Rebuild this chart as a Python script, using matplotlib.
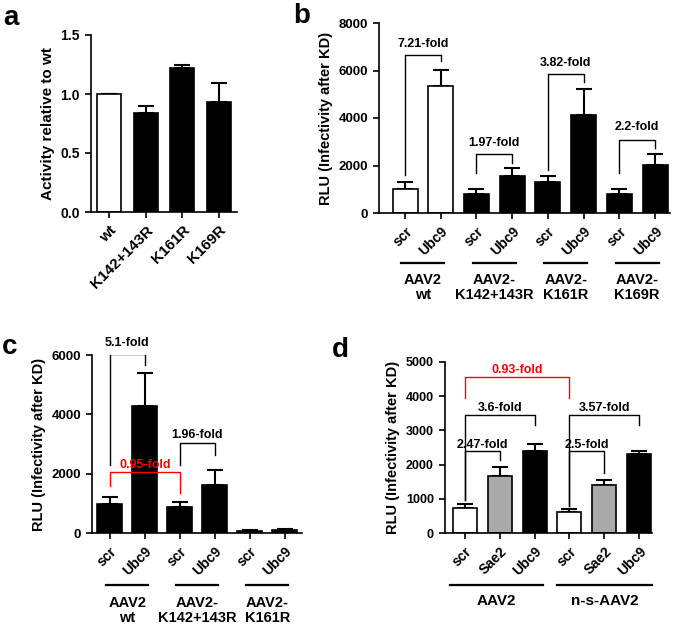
import matplotlib
matplotlib.use("Agg")
import matplotlib.pyplot as plt
import matplotlib.transforms as mtransforms

plt.rcParams["font.family"] = ["Liberation Sans", "DejaVu Sans"]
plt.rcParams["font.weight"] = "bold"
plt.rcParams["axes.labelweight"] = "bold"

W, H = 675, 624

# ---- data ----
a_labels = ["wt", "K142+143R", "K161R", "K169R"]
a_values = [1.0, 0.84, 1.22, 0.93]
a_err_top = [1.0, 0.90, 1.25, 1.09]
a_colors = ["white", "black", "black", "black"]

b_ticks = ["scr", "Ubc9"] * 4
b_groups = ["AAV2\nwt", "AAV2-\nK142+143R", "AAV2-\nK161R", "AAV2-\nK169R"]
b_values = [1030, 5360, 810, 1570, 1290, 4130, 810, 2040]
b_err_top = [1290, 6010, 1000, 1890, 1540, 5220, 1000, 2490]
b_colors = ["white", "white"] + ["black"] * 6
# (left bar, right bar, left leg bottom, right leg bottom, top, text y, label)
b_brackets = [
    (0, 1, 1600, 6400, 6640, 7100, "7.21-fold"),
    (2, 3, 1680, 2100, 2480, 2940, "1.97-fold"),
    (4, 5, 1820, 5500, 5870, 6330, "3.82-fold"),
    (6, 7, 1680, 2730, 3080, 3640, "2.2-fold"),
]

c_ticks = ["scr", "Ubc9"] * 3
c_groups = ["AAV2\nwt", "AAV2-\nK142+143R", "AAV2-\nK161R"]
c_values = [990, 4280, 880, 1630, 80, 100]
c_err_top = [1230, 5410, 1060, 2130, 100, 135]
c_brackets = [
    (0, 1, 2300, 5660, 6020, 6400, "5.1-fold", "black"),
    (2, 3, 2300, 2630, 3030, 3300, "1.96-fold", "black"),
    (0, 2, 1570, 1350, 2070, 2300, "0.95-fold", "red"),
]

d_ticks = ["scr", "Sae2", "Ubc9"] * 2
d_groups = ["AAV2", "n-s-AAV2"]
d_values = [730, 1680, 2390, 610, 1410, 2310]
d_err_top = [860, 1930, 2600, 700, 1560, 2390]
d_colors = ["white", "#a9a9a9", "black"] * 2
d_brackets = [
    (0, 2, 970, 3170, 3440, 3650, "3.6-fold", "black"),
    (0, 1, 970, 2140, 2390, 2580, "2.47-fold", "black"),
    (3, 5, 780, 3170, 3440, 3650, "3.57-fold", "black"),
    (3, 4, 780, 1750, 2390, 2580, "2.5-fold", "black"),
    (0, 3, 3950, 3950, 4560, 4780, "0.93-fold", "red"),
]

fig = plt.figure(figsize=(W / 100, H / 100), dpi=100)


def make_axes(x0, x1, ytop, ybot, ysize=9.5):
    ax = fig.add_axes([x0 / W, 1 - ybot / H, (x1 - x0) / W, (ybot - ytop) / H])
    for s in ("top", "right"):
        ax.spines[s].set_visible(False)
    for s in ("left", "bottom"):
        ax.spines[s].set_linewidth(1.2)
    ax.tick_params(width=1.2, length=4.5)
    ax.tick_params(axis="y", labelsize=ysize)
    return ax


def bars(ax, vals, errs, colors, width):
    x = list(range(len(vals)))
    ax.bar(x, vals, width=width, color=colors, edgecolor="black", linewidth=1.2, zorder=2)
    up = [e - v for e, v in zip(errs, vals)]
    ax.errorbar(x, vals, yerr=[[0] * len(vals), up], fmt="none", ecolor="black",
                elinewidth=1.5, capsize=5.5, capthick=1.5, zorder=1)


def bracket(ax, i, j, yl, yr, top, ty, text, color="black"):
    ax.plot([i, i, j, j], [yl, top, top, yr], color=color, lw=1.0, zorder=3)
    ax.text((i + j) / 2, ty, text, ha="center", va="center", fontsize=9,
            fontweight="bold", color=color, zorder=4)


def set_xticks(ax, labels, size=10):
    ax.set_xticks(range(len(labels)))
    ax.set_xticklabels(labels, rotation=45, ha="right", rotation_mode="anchor",
                       fontsize=size, fontweight="bold")


def groups(ax, spans, labels, yline, ytext, size=10.5):
    tr = mtransforms.blended_transform_factory(ax.transData, fig.transFigure)
    for (s, e), lab in zip(spans, labels):
        ax.plot([s, e], [1 - yline / H] * 2, color="black", lw=1.6,
                transform=tr, clip_on=False)
        ax.text((s + e) / 2, 1 - ytext / H, lab, transform=tr, ha="center",
                va="top", fontsize=size, fontweight="bold", linespacing=1.05)


def bold_yticks(ax):
    for lab in ax.get_yticklabels():
        lab.set_fontweight("bold")


# ---- panel a ----
ax = make_axes(91, 237, 35, 212, ysize=10)
bars(ax, a_values, a_err_top, a_colors, 0.67)
ax.set_ylim(0, 1.5)
ax.set_xlim(-0.5, 3.5)
ax.set_yticks([0, 0.5, 1.0, 1.5])
ax.set_yticklabels(["0.0", "0.5", "1.0", "1.5"])
bold_yticks(ax)
set_xticks(ax, a_labels, size=11)
ax.set_ylabel("Activity relative to wt", fontsize=11)
fig.text(3 / W, 1 - 18 / H, "a", fontsize=20, fontweight="bold", va="center")

# ---- panel b ----
ax = make_axes(379, 670, 23, 213)
bars(ax, b_values, b_err_top, b_colors, 0.7)
ax.set_ylim(0, 8000)
ax.set_xlim(-0.73, 7.42)
ax.set_yticks(range(0, 8001, 2000))
bold_yticks(ax)
set_xticks(ax, b_ticks)
ax.set_ylabel("RLU (Infectivity after KD)", fontsize=10.5)
for i, j, yl, yr, top, ty, t in b_brackets:
    bracket(ax, i, j, yl, yr, top, ty, t)
groups(ax, [(2 * k - 0.1, 2 * k + 1.1) for k in range(4)], b_groups, 263, 273)
fig.text(293 / W, 1 - 16 / H, "b", fontsize=20, fontweight="bold", va="center")

# ---- panel c ----
ax = make_axes(92, 302, 355, 533)
bars(ax, c_values, c_err_top, ["black"] * 6, 0.72)
ax.set_ylim(0, 6000)
ax.set_xlim(-0.51, 5.49)
ax.set_yticks(range(0, 6001, 2000))
bold_yticks(ax)
set_xticks(ax, c_ticks)
ax.set_ylabel("RLU (Infectivity after KD)", fontsize=10.5)
for i, j, yl, yr, top, ty, t, col in c_brackets:
    bracket(ax, i, j, yl, yr, top, ty, t, col)
groups(ax, [(2 * k - 0.1, 2 * k + 1.1) for k in range(3)], c_groups, 585, 596)
fig.text(2 / W, 1 - 347 / H, "c", fontsize=20, fontweight="bold", va="center")

# ---- panel d ----
ax = make_axes(445, 652, 362, 533, ysize=9)
bars(ax, d_values, d_err_top, d_colors, 0.69)
ax.set_ylim(0, 5000)
ax.set_xlim(-0.57, 5.37)
ax.set_yticks(range(0, 5001, 1000))
bold_yticks(ax)
set_xticks(ax, d_ticks)
ax.set_ylabel("RLU (Infectivity after KD)", fontsize=10.5)
for i, j, yl, yr, top, ty, t, col in d_brackets:
    bracket(ax, i, j, yl, yr, top, ty, t, col)
groups(ax, [(-0.43, 2.24), (2.64, 5.37)], d_groups, 585, 594, size=11)
fig.text(332 / W, 1 - 350 / H, "d", fontsize=20, fontweight="bold", va="center")

fig.savefig("out.png", dpi=100)
